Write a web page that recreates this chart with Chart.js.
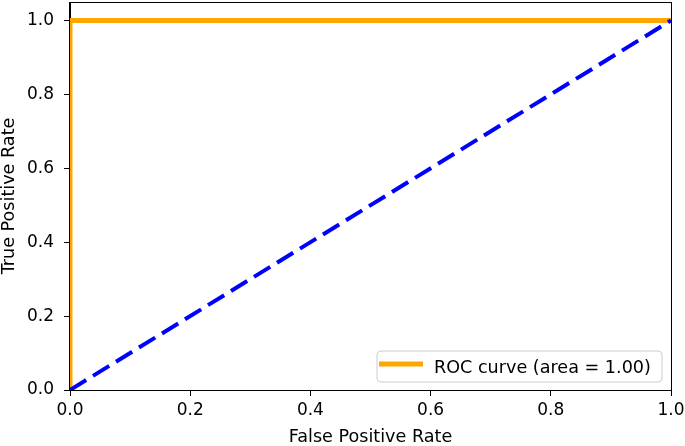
<!DOCTYPE html>
<html>
<head>
<meta charset="utf-8">
<script src="https://cdn.jsdelivr.net/npm/chart.js@4/dist/chart.umd.min.js"></script>
<style>
html,body{margin:0;padding:0;background:#fff;}
#wrap{width:685px;height:446px;position:relative;}
</style>
</head>
<body>
<div id="wrap"><canvas id="c" width="685" height="446"></canvas></div>
<script>
// ---- data ----
const rocFpr = [0.0, 0.0, 1.0];
const rocTpr = [0.0, 1.0, 1.0];
const diagFpr = [0.0, 1.0];
const diagTpr = [0.0, 1.0];
const rocLabel = 'ROC curve (area = 1.00)';
const xTicks = [0.0, 0.2, 0.4, 0.6, 0.8, 1.0];
const yTicks = [0.0, 0.2, 0.4, 0.6, 0.8, 1.0];
const xTitle = 'False Positive Rate';
const yTitle = 'True Positive Rate';

const FONT = 'DejaVu Sans';
const toPts = (xs, ys) => xs.map((x, i) => ({x: x, y: ys[i]}));

const framePlugin = {
  id: 'frame',
  afterDraw(chart) {
    const a = chart.chartArea, ctx = chart.ctx;
    ctx.save();
    ctx.strokeStyle = '#000';
    ctx.lineWidth = 1;
    ctx.strokeRect(a.left - 0.5, a.top + 0.5, a.right - a.left + 1, a.bottom - a.top);
    ctx.restore();
  }
};

const legendPlugin = {
  id: 'boxLegend',
  afterDatasetsDraw(chart) {
    const ds = chart.data.datasets[0];
    const ctx = chart.ctx, a = chart.chartArea;
    const x1 = 377, y1 = 351, x2 = a.right - 9, y2 = 382, r = 4;
    ctx.save();
    ctx.beginPath();
    ctx.moveTo(x1 + r, y1);
    ctx.arcTo(x2, y1, x2, y2, r);
    ctx.arcTo(x2, y2, x1, y2, r);
    ctx.arcTo(x1, y2, x1, y1, r);
    ctx.arcTo(x1, y1, x2, y1, r);
    ctx.closePath();
    ctx.fillStyle = 'rgba(255,255,255,0.8)';
    ctx.fill();
    ctx.strokeStyle = '#cccccc';
    ctx.lineWidth = 1;
    ctx.stroke();
    ctx.beginPath();
    ctx.moveTo(379, 364);
    ctx.lineTo(423, 364);
    ctx.strokeStyle = ds.borderColor;
    ctx.lineWidth = ds.borderWidth;
    ctx.stroke();
    ctx.fillStyle = '#000';
    ctx.font = '17.6px "' + FONT + '"';
    ctx.textBaseline = 'alphabetic';
    ctx.fillText(ds.label, 434, 373);
    ctx.restore();
  }
};

new Chart(document.getElementById('c'), {
  type: 'line',
  data: {
    datasets: [
      {
        label: rocLabel,
        data: toPts(rocFpr, rocTpr),
        borderColor: '#FFA500',
        borderWidth: 5,
        pointRadius: 0,
        tension: 0,
        clip: 0,
        order: 1
      },
      {
        label: 'chance',
        data: toPts(diagFpr, diagTpr),
        borderColor: '#0000FF',
        borderWidth: 4,
        borderDash: [19, 8],
        pointRadius: 0,
        tension: 0,
        clip: 0,
        order: 0
      }
    ]
  },
  options: {
    responsive: false,
    animation: false,
    layout: {padding: {left: 0, top: 2, right: 14, bottom: 0}},
    plugins: {legend: {display: false}, tooltip: {enabled: false}},
    scales: {
      x: {
        type: 'linear',
        min: 0, max: 1,
        afterBuildTicks: s => { s.ticks = xTicks.map(v => ({value: v})); },
        afterFit: s => { s.height = 56; s.paddingLeft = 0; s.paddingRight = 0; s.paddingTop = 0; s.paddingBottom = 0; },
        grid: {drawOnChartArea: false, drawTicks: true, tickLength: 6, tickColor: '#000', tickWidth: 1},
        border: {display: true, color: '#000', width: 1},
        ticks: {
          color: '#000', font: {family: FONT, size: 17}, padding: 4, maxRotation: 0,
          callback: v => Number(v).toFixed(1)
        },
        title: {display: true, text: xTitle, color: '#000', font: {family: FONT, size: 17.6, lineHeight: 1}, padding: {top: 0, bottom: 0}}
      },
      y: {
        type: 'linear',
        min: 0, max: 1.05,
        afterBuildTicks: s => { s.ticks = yTicks.map(v => ({value: v})); },
        afterFit: s => { s.width = 70; s.paddingLeft = 0; s.paddingRight = 0; s.paddingTop = 0; s.paddingBottom = 0; },
        grid: {drawOnChartArea: false, drawTicks: true, tickLength: 6, tickColor: '#000', tickWidth: 1},
        border: {display: true, color: '#000', width: 1},
        ticks: {
          color: '#000', font: {family: FONT, size: 17}, padding: 10,
          callback: v => Number(v).toFixed(1)
        },
        title: {display: true, text: yTitle, color: '#000', font: {family: FONT, size: 17.6, lineHeight: 1}, padding: {top: 1, bottom: 0}}
      }
    }
  },
  plugins: [framePlugin, legendPlugin]
});
</script>
</body>
</html>
